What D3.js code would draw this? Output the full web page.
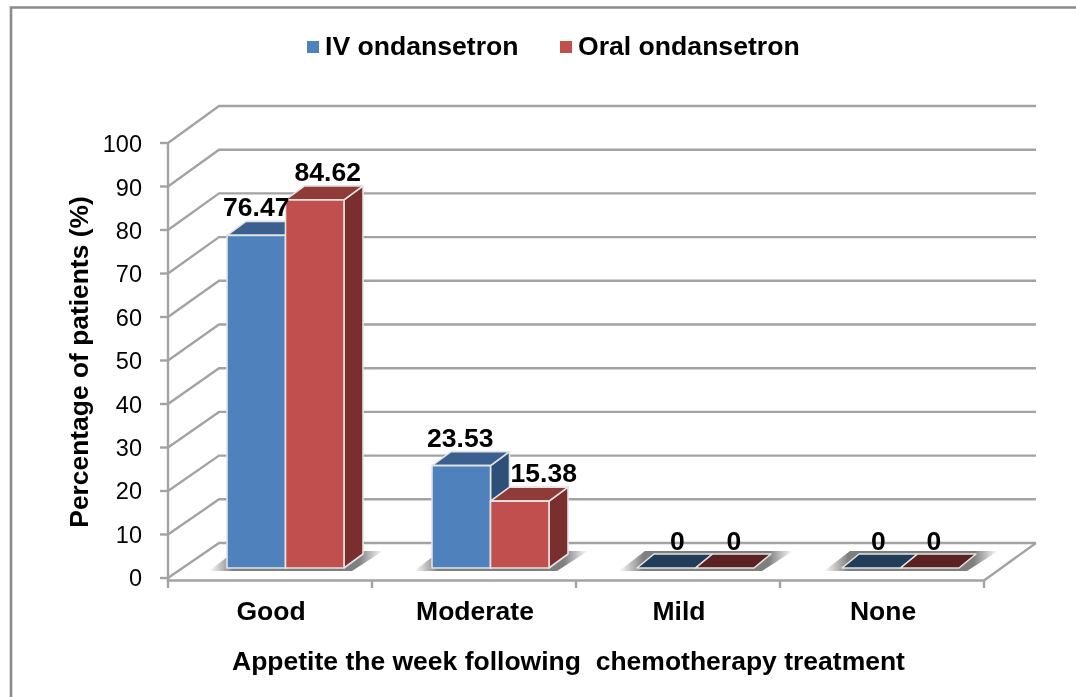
<!DOCTYPE html>
<html><head><meta charset="utf-8">
<script src="https://cdn.jsdelivr.net/npm/d3@7"></script>
<style>html,body{margin:0;background:#fff}svg{display:block}text{font-family:"Liberation Sans",Arial,sans-serif;fill:#000}</style>
</head><body><svg id="c" width="1076" height="697"></svg>
<script>
const categories=["Good","Moderate","Mild","None"];
const seriesNames=["IV ondansetron","Oral ondansetron"];
const ivValues=[76.47,23.53,0,0];
const oralValues=[84.62,15.38,0,0];
const yTicks=[0,10,20,30,40,50,60,70,80,90,100];
const xTitle="Appetite the week following  chemotherapy treatment";
const yTitle="Percentage of patients (%)";

const svg=d3.select("#c");
const defs=svg.append("defs");
defs.append("filter").attr("id","soft").attr("x","-5%").attr("y","-5%").attr("width","110%").attr("height","110%")
 .append("feGaussianBlur").attr("stdDeviation",0.55);
const sg=defs.append("linearGradient").attr("id","shadowGrad").attr("x1",0).attr("x2",1).attr("y1",0).attr("y2",0);
[[0,0],[0.14,0.62],[0.86,0.62],[1,0]].forEach(([o,a])=>
  sg.append("stop").attr("offset",o).attr("stop-color","#303030").attr("stop-opacity",a));

const root=svg.append("g").attr("filter","url(#soft)");
root.append("path").attr("d","M1076,7.5H11V697").attr("fill","none").attr("stroke","#8a8a8a").attr("stroke-width",2.6);

const yF=d3.scaleLinear().domain([0,100]).range([578,143]);   // front edge of the wall lines
const yW=d3.scaleLinear().domain([0,100]).range([543,106]);   // back wall
const yB=d3.scaleLinear().domain([0,100]).range([568,133]);   // bars on the floor
const yL=d3.scaleLinear().domain([0,100]).range([580,146]);   // tick labels
const xAxis=d3.scaleBand().domain(categories).range([168,984]);
const xBar=d3.scaleBand().domain(categories).range([167,987]);
const barDx=19,barDy=-14,barW=58.5;
const grid="#a3a3a3";

const walls=root.append("g").attr("fill","none").attr("stroke",grid).attr("stroke-width",2.4);
yTicks.forEach(t=>{
  walls.append("path").attr("d",`M168,${yF(t)}L219,${yW(t)}H1036`);
});
walls.append("path").attr("d",`M168,${yF(100)}V580.5H984L1036,${yW(0)}`);
yTicks.forEach(t=>walls.append("path").attr("d",`M160,${yF(t)}H168`));
[...categories.map(c=>xAxis(c)),984].forEach(x=>walls.append("path").attr("d",`M${x},580V588`));

root.append("g").selectAll("text").data(yTicks).join("text")
 .attr("x",142).attr("y",d=>yL(d)).attr("text-anchor","end").attr("dominant-baseline","middle")
 .attr("font-size",23.5).text(d=>d);

// floor shadows
root.append("g").selectAll("polygon").data(categories).join("polygon")
 .attr("points",c=>{const x=xBar(c)+60,b=571;
   return [[x-18,b],[x+barW*2+8,b],[x+barW*2+barDx+20,551],[x+8,551]].join(" ");})
 .attr("fill","url(#shadowGrad)");

const colors=[{f:"#4f81bd",t:"#3b608f",s:"#2f5078",z:"#243c5a"},{f:"#c0504d",t:"#903a38",s:"#7a2f2d",z:"#5c2423"}];
const series=[ivValues,oralValues];
const bars=root.append("g").attr("stroke","#e4e4e4").attr("stroke-width",1.6).attr("stroke-linejoin","round");
categories.forEach((c,ci)=>{
  series.forEach((vals,si)=>{
    const v=vals[ci],x0=xBar(c)+60+si*barW,x1=x0+barW,yb=yB(0),yt=yB(v),col=colors[si];
    if(v===0){
      bars.append("polygon").attr("points",[[x0,yb],[x1,yb],[x1+barDx-2,yb+barDy],[x0+barDx-2,yb+barDy]].join(" ")).attr("fill",col.z);
      return;
    }
    bars.append("polygon").attr("points",[[x1,yb],[x1,yt],[x1+barDx,yt+barDy],[x1+barDx,yb+barDy]].join(" ")).attr("fill",col.s);
    bars.append("polygon").attr("points",[[x0,yt],[x1,yt],[x1+barDx,yt+barDy],[x0+barDx,yt+barDy]].join(" ")).attr("fill",col.t);
    bars.append("rect").attr("x",x0).attr("y",yt).attr("width",barW).attr("height",yb-yt).attr("fill",col.f);
  });
});

// data labels (nudges mimic the chart's manual label placement)
const lab=root.append("g").attr("font-size",26.5).attr("font-weight","bold").attr("text-anchor","middle");
const nudge=[[0,13],[-1,24],[11,9],[7,4]];
categories.forEach((c,ci)=>{
  series.forEach((vals,si)=>{
    const v=vals[ci];
    const x=xBar(c)+60+si*barW+barW/2+nudge[ci][si];
    const y=v===0?yB(0)-18:yB(v)+barDy-5;
    lab.append("text").attr("x",x).attr("y",y).text(v);
  });
});

// category labels
root.append("g").selectAll("text").data(categories).join("text")
 .attr("x",c=>xAxis(c)+xAxis.bandwidth()/2+1).attr("y",620).attr("text-anchor","middle")
 .attr("font-size",26.5).attr("font-weight","bold").text(c=>c);

root.append("text").attr("x",568.5).attr("y",670).attr("text-anchor","middle").attr("font-size",26.5).attr("font-weight","bold").attr("xml:space","preserve").style("white-space","pre").text(xTitle);
root.append("text").attr("transform","translate(88,362) rotate(-90)").attr("text-anchor","middle").attr("font-size",26.4).attr("font-weight","bold").text(yTitle);

// legend
const lg=root.append("g");
[[307,325],[560,578]].forEach(([sx,tx],i)=>{
  lg.append("rect").attr("x",sx).attr("y",41).attr("width",12).attr("height",12).attr("fill",colors[i].f);
  lg.append("text").attr("x",tx).attr("y",55).attr("font-size",26.6).attr("font-weight","bold").text(seriesNames[i]);
});
</script></body></html>
